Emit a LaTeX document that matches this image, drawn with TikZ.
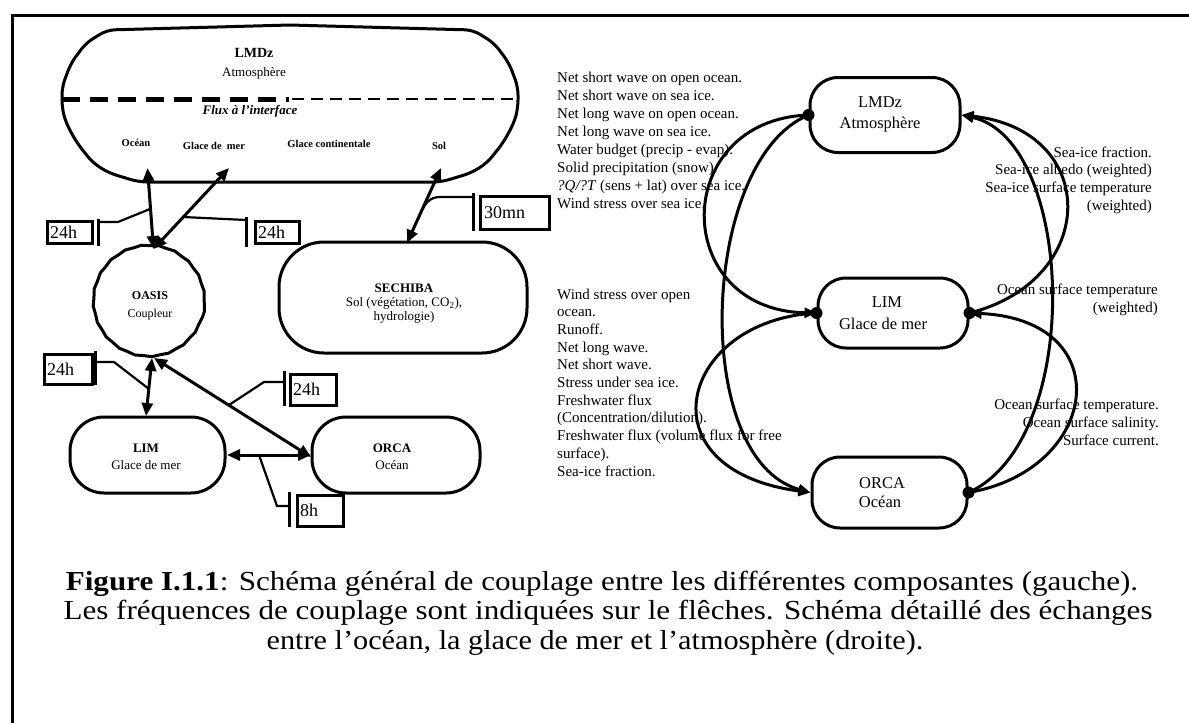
\documentclass[tikz,border=0pt]{standalone}
\usepackage{fontspec}
\setmainfont{Liberation Serif}
\usetikzlibrary{arrows.meta,calc,decorations.pathmorphing}
\begin{document}
\begin{tikzpicture}[x=1pt,y=-1pt,
  outl/.style={draw, line width=3pt},
  lnode/.style={outl, rectangle, inner sep=0pt},
  txt/.style={inner sep=0pt, anchor=base},
  dbl/.style={line width=3pt, {Triangle[length=13pt,width=11pt]}-{Triangle[length=13pt,width=11pt]}},
  lead/.style={line width=2.2pt},
  tbar/.style={line width=3pt},
  tbox/.style={draw, line width=2.5pt, rectangle, inner sep=0pt, anchor=north west},
  tlab/.style={inner sep=0pt, anchor=west, font=\fontsize{18}{18}\selectfont},
  crva/.style={line width=3pt, -{Triangle[length=12pt,width=10pt]}},
  dot/.style={circle, fill=black, inner sep=0pt, minimum size=12pt},
  rtxt/.style={inner sep=0pt, font=\fontsize{15}{18}\selectfont},
  captxt/.style={inner sep=0pt, anchor=base, font=\fontsize{27.5}{27.5}\selectfont}
]
\useasboundingbox (0,0) rectangle (1189,723);
% frame
\draw[line width=3pt] (12,723) -- (12,15) -- (1189,15);

% ---------------- LEFT DIAGRAM ----------------
% big LMDz shape
\draw[outl, rounded corners=8pt] (107,30) -- (290,25) -- (473,30) -- (494,43) -- (509,63) -- (518,87) -- (518,108)
  -- (514,123) -- (503,143) -- (487,163) -- (471,173) -- (441,182) -- (139,182) -- (109,173) -- (93,163)
  -- (77,143) -- (66,123) -- (62,108) -- (62,87) -- (71,63) -- (86,43) -- cycle;
\draw[line width=5pt, dash pattern=on 18pt off 10pt] (62,99) -- (289,99);
\draw[line width=2.5pt, dash pattern=on 12pt off 7pt] (292,99) -- (518,99);
\node[txt, font=\fontsize{14}{14}\selectfont\bfseries] (tl1) at (254,57.5) {LMDz};
\node[txt, font=\fontsize{13}{13}\selectfont] (tl2) at (254,76) {Atmosphère};
\node[txt, font=\fontsize{13}{13}\selectfont\bfseries\itshape] (tl3) at (250,114.5) {Flux à l’interface};
\node[txt, font=\fontsize{10.5}{10.5}\selectfont\bfseries] (tl4) at (136,146.5) {Océan};
\node[txt, font=\fontsize{10.5}{10.5}\selectfont\bfseries] (tl5) at (214,149.5) {Glace de\ \ mer};
\node[txt, font=\fontsize{10.5}{10.5}\selectfont\bfseries] (tl6) at (329,147.5) {Glace continentale};
\node[txt, font=\fontsize{10.5}{10.5}\selectfont\bfseries] (tl7) at (439,149.5) {Sol};

% OASIS
\node[outl, circle, inner sep=0pt, minimum size=111pt, decorate, decoration={snake, amplitude=0.45pt, segment length=17pt}] (oasis) at (149,305) {};
\node[txt, font=\fontsize{12}{12}\selectfont\bfseries] (to1) at (150,299) {OASIS};
\node[txt, font=\fontsize{12}{12}\selectfont] (to2) at (150,317) {Coupleur};
% SECHIBA
\node[lnode, rounded corners=45pt, minimum width=248pt, minimum height=111pt] (sechiba) at (403,297.5) {};
\node[txt, font=\fontsize{13}{13}\selectfont\bfseries] (ts1) at (404,292) {SECHIBA};
\node[txt, font=\fontsize{13}{13}\selectfont] (ts2) at (404,306.5) {Sol (végétation, CO\textsubscript{2}),};
\node[txt, font=\fontsize{13}{13}\selectfont] (ts3) at (404,320) {hydrologie)};
% LIM
\node[lnode, rounded corners=34pt, minimum width=155pt, minimum height=76pt] (lim) at (147.5,455) {};
\node[txt, font=\fontsize{13}{13}\selectfont\bfseries] (tli1) at (146,452) {LIM};
\node[txt, font=\fontsize{13}{13}\selectfont] (tli2) at (146,469) {Glace de mer};
% ORCA
\node[lnode, rounded corners=34pt, minimum width=168pt, minimum height=76pt] (orca) at (396,455) {};
\node[txt, font=\fontsize{13}{13}\selectfont\bfseries] (tor1) at (392,452) {ORCA};
\node[txt, font=\fontsize{13}{13}\selectfont] (tor2) at (392,469) {Océan};

% arrow end points
\coordinate (pOce) at (147.5,168);
\coordinate (pGla) at (229,168);
\coordinate (pSol) at (441,168);
\coordinate (oTop) at (153.5,249);
\coordinate (sTop) at (407,243);
\coordinate (oBot1) at (152,358);
\coordinate (oBot2) at (154,358);
\coordinate (limN) at (146,416);
\coordinate (orcW) at (311,457);
\coordinate (limE) at (227,455);
\coordinate (orcW2) at (311,455);

\draw[dbl] (pOce) -- (oTop);
\draw[dbl] (pGla) -- (oTop);
\draw[dbl] (pSol) -- (sTop);
\draw[dbl] (oBot1) -- (limN);
\draw[dbl] (oBot2) -- (orcW);
\draw[dbl] (limE) -- (orcW2);

% time boxes
\node[tbox, minimum width=45pt, minimum height=22pt] (b1) at (46,220) {};
\node[tlab] (b1t) at ($(b1.west)+(4,0)$) {24h};
\coordinate (bar1a) at (98,219); \coordinate (bar1b) at (98,246);
\draw[tbar] (bar1a) -- (bar1b);
\draw[lead] (150,209) -- (118,222) -- (98,222);

\node[tbox, minimum width=44pt, minimum height=22pt] (b2) at (254,220) {};
\node[tlab] (b2t) at ($(b2.west)+(4,0)$) {24h};
\coordinate (bar2a) at (246,217); \coordinate (bar2b) at (246,247);
\draw[tbar] (bar2a) -- (bar2b);
\draw[lead] (183,217) -- (246,220);

\node[tbox, minimum width=69pt, minimum height=33pt] (b3) at (479,195) {};
\node[tlab] (b3t) at ($(b3.west)+(5,0)$) {30mn};
\coordinate (bar3a) at (473,193); \coordinate (bar3b) at (473,231);
\draw[tbar] (bar3a) -- (bar3b);
\draw[lead] (418,219) .. controls (424,203) and (430,197) .. (440,197) -- (473,197);

\node[tbox, minimum width=48pt, minimum height=30pt] (b4) at (43,353) {};
\node[tlab] (b4t) at ($(b4.west)+(4,0)$) {24h};
\coordinate (bar4a) at (95,351); \coordinate (bar4b) at (95,385);
\draw[tbar] (bar4a) -- (bar4b);
\draw[lead] (149,389) -- (114,362) -- (95,362);

\node[tbox, minimum width=46pt, minimum height=31pt] (b5) at (289,373) {};
\node[tlab] (b5t) at ($(b5.west)+(4,0)$) {24h};
\coordinate (bar5a) at (284,371); \coordinate (bar5b) at (284,406);
\draw[tbar] (bar5a) -- (bar5b);
\draw[lead] (229,405) -- (264,382) -- (284,382);

\node[tbox, minimum width=46pt, minimum height=31pt] (b6) at (296,494) {};
\node[tlab] (b6t) at ($(b6.west)+(4,0)$) {8h};
\coordinate (bar6a) at (289,492); \coordinate (bar6b) at (289,527);
\draw[tbar] (bar6a) -- (bar6b);
\draw[lead] (259,455) -- (277,506) -- (289,506);

% ---------------- RIGHT DIAGRAM TEXT ----------------
\foreach \t [count=\i from 0] in {Net short wave on open ocean.,Net short wave on sea ice.,Net long wave on open ocean.,Net long wave on sea ice.,Water budget (precip - evap).,Solid precipitation (snow).,{\textit{?Q/?T} (sens + lat) over sea ice.},Wind stress over sea ice.}
  \node[rtxt, anchor=base west] (ra\i) at (557,82+18*\i) {\t};
\foreach \t [count=\i from 0] in {Wind stress over open,ocean.,Runoff.,Net long wave.,Net short wave.,Stress under sea ice.,Freshwater flux,(Concentration/dilution).,Freshwater flux (volume flux for free,surface).,Sea-ice fraction.}
  \node[rtxt, anchor=base west] (rb\i) at (557,299+17.7*\i) {\t};
\foreach \t [count=\i from 0] in {Sea-ice fraction.,Sea-ice albedo (weighted),Sea-ice surface temperature,(weighted)}
  \node[rtxt, anchor=base east] (rc\i) at (1152,157+17.7*\i) {\t};
\foreach \t [count=\i from 0] in {Ocean surface temperature,(weighted)}
  \node[rtxt, anchor=base east] (rd\i) at (1158,294+18*\i) {\t};
\foreach \t [count=\i from 0] in {Ocean surface temperature.,Ocean surface salinity.,Surface current.}
  \node[rtxt, anchor=base east] (re\i) at (1159,409+18*\i) {\t};

% ---------------- RIGHT DIAGRAM NODES ----------------
\node[lnode, rounded corners=28pt, minimum width=150pt, minimum height=75pt] (rA) at (885,115) {};
\node[txt, font=\fontsize{16.5}{16.5}\selectfont] (rA1) at (880,107) {LMDz};
\node[txt, font=\fontsize{16.5}{16.5}\selectfont] (rA2) at (880,128) {Atmosphère};
\node[lnode, rounded corners=28pt, minimum width=150pt, minimum height=70pt] (rL) at (893,313) {};
\node[txt, font=\fontsize{16.5}{16.5}\selectfont] (rL1) at (887,307) {LIM};
\node[txt, font=\fontsize{16.5}{16.5}\selectfont] (rL2) at (883,329) {Glace de mer};
\node[lnode, rounded corners=28pt, minimum width=155pt, minimum height=71pt] (rO) at (889.5,492.5) {};
\node[txt, font=\fontsize{16.5}{16.5}\selectfont] (rO1) at (882,488) {ORCA};
\node[txt, font=\fontsize{16.5}{16.5}\selectfont] (rO2) at (880,507) {Océan};

% curves
\draw[crva] (rA.west) .. controls (670,120) and (670,310) .. (rL.west);
\draw[crva] (rA.west) .. controls (700,160) and (690,460) .. (rO.west);
\draw[crva] (rL.west) .. controls (680,320) and (640,470) .. (rO.west);
\draw[crva] (rL.east) .. controls (1100,280) and (1100,130) .. (rA.east);
\draw[crva] (rO.east) .. controls (1085,440) and (1075,140) .. (rA.east);
\draw[crva] (rO.east) .. controls (1100,470) and (1120,320) .. (rL.east);

\node[dot] (dA) at (rA.west) {};
\node[dot] (dLw) at (rL.west) {};
\node[dot] (dLe) at (rL.east) {};
\node[dot] (dOe) at (rO.east) {};

% ---------------- CAPTION ----------------
\node[captxt] (cap1) at (602,590) {\scalebox{1.13}[1]{\textbf{Figure I.1.1}: Schéma général de couplage entre les différentes composantes (gauche).}};
\node[captxt] (cap2) at (608,619.5) {\scalebox{1.13}[1]{Les fréquences de couplage sont indiquées sur le flêches. Schéma détaillé des échanges}};
\node[captxt] (cap3) at (595,649) {\scalebox{1.1}[1]{entre l’océan, la glace de mer et l’atmosphère (droite).}};
\end{tikzpicture}
\end{document}
